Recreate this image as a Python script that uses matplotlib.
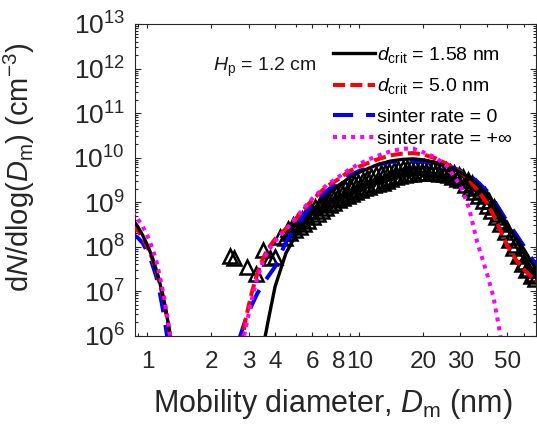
import numpy as np
import matplotlib
matplotlib.use('Agg')
import matplotlib.pyplot as plt
from matplotlib.ticker import FixedLocator, FixedFormatter, LogLocator, LogFormatterSciNotation, NullFormatter

plt.rcParams['font.family'] = ['Liberation Sans', 'DejaVu Sans']
plt.rcParams['mathtext.fontset'] = 'custom'
plt.rcParams['mathtext.rm'] = 'Liberation Sans'
plt.rcParams['mathtext.it'] = 'Liberation Sans:italic'
plt.rcParams['mathtext.bf'] = 'Liberation Sans:bold'
plt.rcParams['mathtext.sf'] = 'Liberation Sans'

# ---------------- data (log10 of dN/dlogDm, cm^-3) ----------------
dm_small = [0.85, 0.9, 0.95, 1.0, 1.05, 1.1, 1.15, 1.2, 1.25, 1.3, 1.35]
black_small = [8.62, 8.45, 8.25, 8.03, 7.78, 7.48, 7.14, 6.76, 6.30, 5.80, 5.20]
red_small = [8.47, 8.36, 8.19, 7.99, 7.75, 7.46, 7.12, 6.74, 6.28, 5.78, 5.20]
blue_small = [8.28, 8.20, 8.08, 7.88, 7.63, 7.33, 6.90, 6.42, 5.85, 5.20, 4.50]
mag_small = [8.78, 8.62, 8.45, 8.24, 7.99, 7.69, 7.28, 6.85, 6.33, 5.75, 5.15]

dm_large = [2.5, 2.7, 2.9, 3.1, 3.3, 3.5, 3.7, 4.0, 4.5, 5.0, 5.5, 6.0, 7.0, 8.0, 9.0,
            10, 12, 14, 16, 18, 20, 23, 26, 30, 33, 36, 40, 43, 46, 50, 55, 60, 65, 70]
black_large = [2.0, 2.6, 3.2, 3.9, 4.8, 5.7, 6.3, 7.1, 7.85, 8.25, 8.55, 8.80, 9.15, 9.38, 9.55,
               9.67, 9.83, 9.92, 9.96, 9.97, 9.95, 9.89, 9.80, 9.67, 9.55, 9.40, 9.18, 8.98, 8.76,
               8.47, 8.20, 7.93, 7.65, 7.42]
red_large = [4.6, 5.5, 6.35, 6.95, 7.40, 7.72, 7.95, 8.17, 8.40, 8.62, 8.85, 9.05, 9.35, 9.52, 9.70,
             9.80, 9.95, 10.05, 10.09, 10.10, 10.07, 9.98, 9.85, 9.68, 9.50, 9.28, 8.98, 8.70, 8.40,
             8.02, 7.70, 7.48, 7.32, 7.20]
blue_large = [5.2, 5.9, 6.35, 6.68, 6.95, 7.15, 7.32, 7.55, 8.10, 8.45, 8.72, 8.95, 9.25, 9.45, 9.60,
              9.70, 9.83, 9.90, 9.93, 9.93, 9.92, 9.88, 9.81, 9.71, 9.60, 9.46, 9.25, 9.05, 8.83,
              8.55, 8.27, 8.00, 7.74, 7.52]
mag_large = [4.4, 5.3, 6.15, 6.80, 7.30, 7.65, 7.90, 8.12, 8.38, 8.64, 8.88, 9.08, 9.38, 9.57, 9.74,
             9.86, 10.03, 10.14, 10.20, 10.20, 10.12, 10.00, 9.80, 9.37, 8.85, 8.10, 7.40, 6.86, 6.09,
             5.00, 3.50, 2.00, 1.00, 0.00]

# measured data (triangles)
meas_small_dm = [2.45, 2.56, 2.96, 3.27, 3.52, 3.79, 3.99, 4.21, 4.45]
meas_small_log = [7.79, 7.74, 7.55, 7.39, 7.92, 7.74, 7.77, 8.22, 8.19]
meas_upper_dm = [4.6, 4.85, 5.1, 5.35, 5.6, 5.9, 6.2, 6.5, 6.8, 7.1, 7.45, 7.8, 8.2, 8.6, 9.0, 9.45,
                 9.9, 10.4, 10.9, 11.4, 12.0, 12.6, 13.2, 13.8, 14.5, 15.2, 16.0, 16.8, 17.6, 18.4,
                 19.3, 20.2, 21.2, 22.2, 23.3, 24.4, 25.6, 26.8, 28.1, 29.5, 30.9, 32.4, 34.0, 35.6,
                 37.3, 39.1, 41.0, 43.0, 45.1, 47.3, 49.6, 52.0, 54.5, 57.1, 59.9, 62.8, 65.8]
meas_upper_log = [8.40, 8.48, 8.55, 8.62, 8.72, 8.80, 8.88, 8.95, 9.02, 9.08, 9.15, 9.21, 9.27,
                  9.32, 9.37, 9.42, 9.46, 9.50, 9.54, 9.58, 9.62, 9.65, 9.68, 9.70, 9.72, 9.74,
                  9.76, 9.77, 9.78, 9.78, 9.78, 9.78, 9.77, 9.76, 9.75, 9.73, 9.71, 9.68, 9.65,
                  9.61, 9.56, 9.50, 9.43, 9.35, 9.26, 9.15, 9.03, 8.90, 8.74, 8.58, 8.40, 8.22,
                  8.03, 7.84, 7.66, 7.50, 7.38]
meas_lower_dm = [4.72, 4.97, 5.22, 5.47, 5.75, 6.05, 6.35, 6.65, 6.95, 7.27, 7.62, 8.0, 8.4, 8.8,
                 9.22, 9.67, 10.15, 10.65, 11.15, 11.7, 12.3, 12.9, 13.5, 14.15, 14.85, 15.6, 16.4,
                 17.2, 18.0, 18.85, 19.75, 20.7, 21.7, 22.75, 23.85, 25.0, 26.2, 27.45, 28.8, 30.2,
                 31.65, 33.2, 34.8, 36.45, 38.2, 40.05, 42.0, 44.05, 46.2, 48.45, 50.8, 53.25, 55.8,
                 58.5, 61.35, 64.3, 67.3]
meas_lower_log = [8.30, 8.38, 8.45, 8.50, 8.58, 8.66, 8.74, 8.80, 8.87, 8.93, 8.99, 9.04, 9.09,
                  9.14, 9.19, 9.23, 9.27, 9.31, 9.35, 9.38, 9.41, 9.44, 9.48, 9.52, 9.56, 9.59,
                  9.61, 9.63, 9.64, 9.65, 9.66, 9.66, 9.66, 9.65, 9.64, 9.62, 9.60, 9.57, 9.53,
                  9.49, 9.38, 9.31, 9.22, 9.13, 9.03, 8.92, 8.80, 8.66, 8.50, 8.32, 8.14, 7.96,
                  7.78, 7.62, 7.48, 7.35, 7.27]

labels = [r'$d_\mathrm{crit}$ = 1.58 nm', r'$d_\mathrm{crit}$ = 5.0 nm',
          'sinter rate = 0', 'sinter rate = +\u221e']
x_major = [1, 2, 3, 4, 6, 8, 10, 20, 30, 50]
x_minor = [0.9, 5, 7, 9, 40, 60]
y_major = [1e6, 1e7, 1e8, 1e9, 1e10, 1e11, 1e12, 1e13]

# ---------------- figure ----------------
fig = plt.figure(figsize=(5.37, 4.26), dpi=100)
ax = fig.add_axes([0.2508, 0.2120, 0.7468, 0.7317])
ax.set_xscale('log')
ax.set_yscale('log')


def series(ys, yl):
    x = np.array(dm_small + [np.nan] + dm_large)
    y = 10.0 ** np.array(ys + [np.nan] + yl)
    return x, y


tri = dict(ls='none', marker='^', ms=10, mfc='none', mec='black', mew=1.8, zorder=2)
ax.plot(meas_small_dm, 10.0 ** np.array(meas_small_log), **tri)
ax.plot(meas_upper_dm, 10.0 ** np.array(meas_upper_log), **tri)
ax.plot(meas_lower_dm, 10.0 ** np.array(meas_lower_log), **tri)

handles = []
x, y = series(black_small, black_large)
handles += ax.plot(x, y, '-', color='black', lw=2.4, zorder=3.4)
x, y = series(red_small, red_large)
handles += ax.plot(x, y, color='#ff0000', lw=2.9, dashes=(3, 1.3), dash_capstyle='butt', zorder=3.3)
x, y = series(blue_small, blue_large)
handles += ax.plot(x, y, color='#0000ff', lw=2.9, dashes=(5, 3.2), dash_capstyle='butt', zorder=3.2)
x, y = series(mag_small, mag_large)
handles += ax.plot(x, y, color='#ff00ff', lw=2.9, dashes=(1, 1.25), dash_capstyle='butt', zorder=3.5)

ax.set_xlim(0.87, 68)
ax.set_ylim(1e6, 1e13)

ax.xaxis.set_major_locator(FixedLocator(x_major))
ax.xaxis.set_major_formatter(FixedFormatter([str(v) for v in x_major]))
ax.xaxis.set_minor_locator(FixedLocator(x_minor))
ax.xaxis.set_minor_formatter(NullFormatter())
ax.yaxis.set_major_locator(FixedLocator(y_major))
ax.yaxis.set_major_formatter(LogFormatterSciNotation())
ax.yaxis.set_minor_locator(LogLocator(base=10, subs=np.arange(2, 10), numticks=100))
ax.yaxis.set_minor_formatter(NullFormatter())

ax.tick_params(which='both', direction='in', top=True, right=True, width=0.8, color='#262626')
ax.tick_params(axis='x', which='major', length=3, pad=11.3, labelsize=17.5, labelcolor='#262626')
ax.tick_params(axis='x', which='minor', length=2.5)
ax.tick_params(axis='y', which='major', length=4, pad=7, labelsize=19, labelcolor='#262626')
ax.tick_params(axis='y', which='minor', length=2)
for s in ax.spines.values():
    s.set_linewidth(0.8)
    s.set_color('#262626')

ax.set_xlabel(r'Mobility diameter, $D_\mathrm{m}$ (nm)', fontsize=22, color='#262626')
ax.xaxis.set_label_coords(0.493, -0.1646)
ax.set_ylabel(r'd$N$/dlog($D_\mathrm{m}$) (cm$^{-3}$)', fontsize=21, color='#262626')
ax.yaxis.set_label_coords(-0.2436, 0.54)

ax.text(0.196, 0.850, r'$H_\mathrm{p}$ = 1.2 cm', transform=ax.transAxes, fontsize=14,
        ha='left', va='baseline', color='#1a1a1a')

common = dict(loc='upper left', frameon=False, fontsize=14, handlelength=2.17,
              handletextpad=0.115, borderpad=0, borderaxespad=0)
legA = ax.legend(handles[:2], labels[:2], bbox_to_anchor=(0.494, 0.932), labelspacing=0.58, **common)
ax.add_artist(legA)
legB = ax.legend(handles[2:], labels[2:], bbox_to_anchor=(0.494, 0.729), labelspacing=0.23, **common)

fig.savefig('out.png', dpi=100)
